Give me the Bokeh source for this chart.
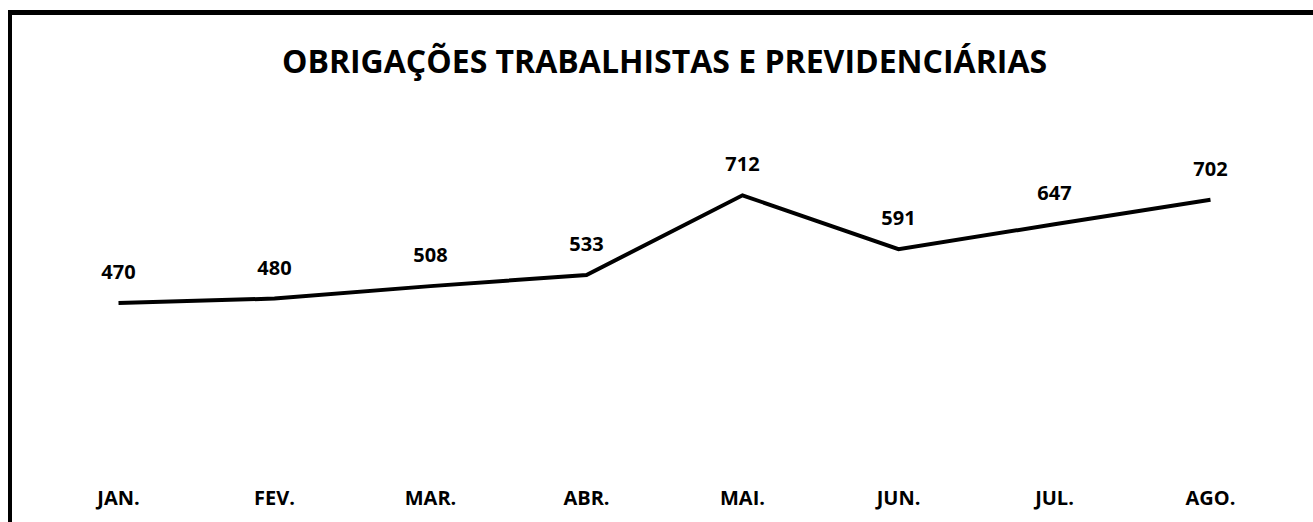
from bokeh.plotting import figure
from bokeh.models import Range1d, ColumnDataSource, LabelSet, FactorRange, InlineStyleSheet
from bokeh.core.properties import value
from bokeh.embed import file_html
from bokeh.resources import INLINE

months = ["JAN.", "FEV.", "MAR.", "ABR.", "MAI.", "JUN.", "JUL.", "AGO."]
values = [470, 480, 508, 533, 712, 591, 647, 702]
labels = [str(v) for v in values]

src = ColumnDataSource(dict(x=months, y=values, t=labels))

p = figure(
    x_range=FactorRange(*months, range_padding=0),
    y_range=Range1d(93.7, 877.9),
    width=1313, height=522,
    output_backend="svg", toolbar_location=None,
    min_border_left=40, min_border_right=25,
    min_border_top=120, min_border_bottom=52,
    title="OBRIGAÇÕES TRABALHISTAS E PREVIDENCIÁRIAS",
)
# chart-area border (left and top edges; right/bottom fall outside the window)
p.stylesheets = [InlineStyleSheet(css="""
:host { position: relative; }
:host::after {
  content: ""; position: absolute; left: 8px; top: 10px;
  width: calc(100% - 8px); height: calc(100% - 10px); box-sizing: border-box;
  border-left: 4px solid black; border-top: 5px solid black;
  pointer-events: none; z-index: 10;
}
""")]

p.title.align = "center"
p.title.vertical_align = "top"
p.title.text_font = "Open Sans"
p.title.text_font_size = "32px"
p.title.text_font_style = "bold"
p.title.text_color = "black"
p.title.standoff = 76

p.line("x", "y", source=src, line_color="black", line_width=4, line_join="miter")
p.add_layout(LabelSet(x="x", y="y", text="t", source=src, y_offset=31,
                      text_align="center", text_baseline="middle",
                      text_font=value("Open Sans"), text_font_size=value("20px"),
                      text_font_style="bold", text_color="black"))

p.yaxis.visible = False
p.xgrid.visible = False
p.ygrid.visible = False
p.outline_line_color = None
p.xaxis.axis_line_color = None
p.xaxis.major_tick_line_color = None
p.xaxis.minor_tick_line_color = None
p.xaxis.major_label_standoff = 7
p.xaxis.major_label_text_font = "Open Sans"
p.xaxis.major_label_text_font_size = "20px"
p.xaxis.major_label_text_font_style = "bold"
p.xaxis.major_label_text_color = "black"

open("out.html", "w").write(file_html(p, INLINE))
